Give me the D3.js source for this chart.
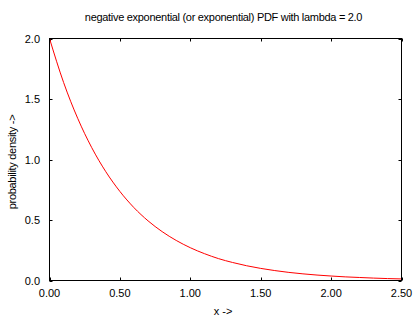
<!DOCTYPE html>
<html><head><meta charset="utf-8">
<script src="https://cdn.jsdelivr.net/npm/d3@7/dist/d3.min.js"></script>
<style>body{margin:0;background:#fff}svg{display:block}text{font-family:"Liberation Sans",Arial,sans-serif;fill:#000}</style>
</head><body><svg id="c" width="420" height="320"></svg>
<script>
const xValues = [0,0.1,0.2,0.3,0.4,0.5,0.6,0.7,0.8,0.9,1.0,1.1,1.2,1.3,1.4,1.5,1.6,1.7,1.8,1.9,2.0,2.1,2.2,2.3,2.4,2.5];
const densityValues = [2.000,1.637,1.341,1.098,0.899,0.736,0.602,0.493,0.404,0.331,0.271,0.222,0.181,0.149,0.122,0.100,0.082,0.067,0.055,0.045,0.037,0.030,0.025,0.020,0.016,0.013];
const xTicks = [0,0.5,1.0,1.5,2.0,2.5];
const yTicks = [0,0.5,1.0,1.5,2.0];
const title = "negative exponential (or exponential) PDF with lambda = 2.0";
const xLabel = "x ->";
const yLabel = "probability density ->";

const svg = d3.select("#c");
const L=49.5, R=401.5, T=38.5, B=280.5;
const x = d3.scaleLinear().domain([0,2.5]).range([L,R]);
const y = d3.scaleLinear().domain([0,2.0]).range([B,T]);
const tl = 3;
const g = svg.append("g");
xTicks.forEach(t=>{
  const px=Math.round(x(t))+0.5;
  g.append("line").attr("x1",px).attr("x2",px).attr("y1",B).attr("y2",B-tl).attr("stroke","#000");
  g.append("line").attr("x1",px).attr("x2",px).attr("y1",T).attr("y2",T+tl).attr("stroke","#000");
  g.append("text").attr("x",x(t)).attr("y",297).attr("text-anchor","middle").attr("font-size",11).text(d3.format(".2f")(t));
});
yTicks.forEach(t=>{
  const py=Math.round(y(t))+0.5;
  g.append("line").attr("x1",L).attr("x2",L+tl).attr("y1",py).attr("y2",py).attr("stroke","#000");
  g.append("line").attr("x1",R).attr("x2",R-tl).attr("y1",py).attr("y2",py).attr("stroke","#000");
  g.append("text").attr("x",40).attr("y",y(t)+4).attr("text-anchor","end").attr("font-size",11).text(d3.format(".1f")(t));
});
const line = d3.line().x((d,i)=>x(xValues[i])).y(d=>y(d)).curve(d3.curveMonotoneX);
svg.append("path").datum(densityValues).attr("d",line).attr("fill","none").attr("stroke","#f00").attr("stroke-width",1);
svg.append("rect").attr("x",L).attr("y",T).attr("width",R-L).attr("height",B-T).attr("fill","none").attr("stroke","#000");
svg.append("text").attr("x",223.5).attr("y",21).attr("text-anchor","middle").attr("font-size",11).attr("letter-spacing","-0.3").text(title);
svg.append("text").attr("x",223).attr("y",315).attr("text-anchor","middle").attr("font-size",11).text(xLabel);
svg.append("text").attr("transform","translate(16,162) rotate(-90)").attr("text-anchor","middle").attr("font-size",11).attr("letter-spacing","-0.3").text(yLabel);
</script></body></html>
